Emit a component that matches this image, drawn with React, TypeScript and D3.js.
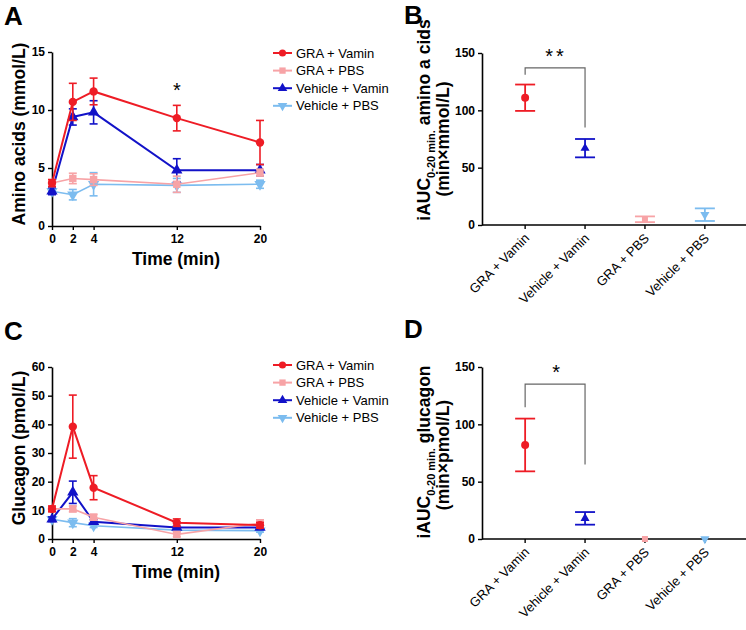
import { useRef, useEffect } from 'react';
import * as d3 from 'd3';

const W = 746;
const H = 630;

const GROUPS = ['GRA + Vamin', 'GRA + PBS', 'Vehicle + Vamin', 'Vehicle + PBS'];
const AUC_ORDER = ['GRA + Vamin', 'Vehicle + Vamin', 'GRA + PBS', 'Vehicle + PBS'];
const COLORS = ['#ee1c25', '#f7a3a6', '#1212c8', '#7cbcef'];
const SHAPES = ['circle', 'square', 'triangle', 'triangleDown'];

const TIMES = [0, 2, 4, 12, 20];

// Amino acids (mmol/L)
const aaGraVamin = [3.7, 10.7, 11.6, 9.3, 7.2];
const aaGraVaminErr = [0.3, 1.6, 1.15, 1.1, 1.9];
const aaGraPbs = [3.7, 4.1, 4.0, 3.6, 4.6];
const aaGraPbsErr = [0.3, 0.45, 0.5, 0.7, 0.3];
const aaVehVamin = [3.0, 9.4, 9.8, 4.8, 4.8];
const aaVehVaminErr = [0.3, 0.7, 1.0, 1.0, 0.5];
const aaVehPbs = [3.0, 2.7, 3.6, 3.5, 3.6];
const aaVehPbsErr = [0.2, 0.45, 1.0, 0.6, 0.35];

// Glucagon (pmol/L)
const glGraVamin = [10.5, 39.2, 17.9, 5.7, 4.8];
const glGraVaminErr = [1.0, 11.0, 4.2, 1.3, 1.0];
const glGraPbs = [10.5, 10.5, 7.6, 1.6, 5.5];
const glGraPbsErr = [0.8, 1.0, 1.0, 0.8, 1.2];
const glVehVamin = [6.9, 16.3, 6.0, 4.0, 4.0];
const glVehVaminErr = [0.8, 3.9, 0.8, 0.5, 0.5];
const glVehPbs = [6.9, 5.7, 4.6, 3.1, 2.9];
const glVehPbsErr = [0.5, 1.4, 0.6, 0.5, 0.5];

// iAUC, in AUC_ORDER
const aucAA = [111, 67, 5, 9];
const aucAAErr = [11.5, 8, 2.5, 5.5];
const aucGl = [82, 18, 0, 0];
const aucGlErr = [23, 5.5, 0, 0];

const FONT = '"Liberation Sans", Arial, sans-serif';

function symbolPath(shape, size) {
  if (shape === 'circle') return d3.symbol(d3.symbolCircle, size)();
  if (shape === 'square') return d3.symbol(d3.symbolSquare, size)();
  return d3.symbol(d3.symbolTriangle, size)();
}

function drawMarker(g, shape, x, y, color, size) {
  g.append('path')
    .attr('d', symbolPath(shape, size))
    .attr('transform', `translate(${x},${y})${shape === 'triangleDown' ? ' rotate(180)' : ''}`)
    .attr('fill', color);
}

function styleAxis(s) {
  s.select('.domain').attr('stroke', '#000').attr('stroke-width', 1.6);
  s.selectAll('.tick line').attr('stroke', '#000').attr('stroke-width', 1.4);
  s.selectAll('text')
    .attr('fill', '#000')
    .style('font-family', FONT)
    .style('font-size', '12px')
    .style('font-weight', 'bold');
}

function timePanel(svg, opts) {
  const { top, bottom, max, step, series, ylabel, letter, legendY, star } = opts;
  const x = d3.scaleLinear().domain([0, 20]).range([52, 260]);
  const y = d3.scaleLinear().domain([0, max]).range([bottom, top]);
  const g = svg.append('g');

  g.append('text').attr('x', 4).attr('y', top - 27)
    .style('font-family', FONT).style('font-size', '26px').style('font-weight', 'bold')
    .text(letter);

  g.append('g').attr('transform', `translate(52,0)`)
    .call(d3.axisLeft(y).tickValues(d3.range(0, max + 0.01, step)).tickSize(4).tickSizeOuter(0).tickPadding(3))
    .call(styleAxis);

  g.append('g').attr('transform', `translate(0,${bottom})`)
    .call(d3.axisBottom(x).tickValues(TIMES).tickSize(4).tickSizeOuter(0).tickPadding(4))
    .call(styleAxis);

  g.append('text')
    .attr('x', 176).attr('y', bottom + 39)
    .attr('text-anchor', 'middle')
    .style('font-family', FONT).style('font-size', '17.5px').style('font-weight', 'bold')
    .text('Time (min)');

  g.append('text')
    .attr('transform', `translate(25,${(top + bottom) / 2 - 5}) rotate(-90)`)
    .attr('text-anchor', 'middle')
    .style('font-family', FONT).style('font-size', '17.5px').style('font-weight', 'bold')
    .text(ylabel);

  // draw light blue first so red ends up on top
  [3, 2, 1, 0].forEach(i => {
    const { vals, err } = series[i];
    const c = COLORS[i];
    const line = d3.line().x((d, k) => x(TIMES[k])).y(d => y(d));
    g.append('path').datum(vals).attr('d', line)
      .attr('fill', 'none').attr('stroke', c).attr('stroke-width', i === 1 || i === 3 ? 1.6 : 2);
    vals.forEach((v, k) => {
      const cx = x(TIMES[k]);
      const e = err[k];
      g.append('line').attr('x1', cx).attr('x2', cx).attr('y1', y(v + e)).attr('y2', y(Math.max(0, v - e)))
        .attr('stroke', c).attr('stroke-width', 1.6);
      [v + e, Math.max(0, v - e)].forEach(b => {
        g.append('line').attr('x1', cx - 4).attr('x2', cx + 4).attr('y1', y(b)).attr('y2', y(b))
          .attr('stroke', c).attr('stroke-width', 1.6);
      });
      drawMarker(g, SHAPES[i], cx, y(v), c, 55);
    });
  });

  if (star) {
    g.append('text').attr('x', x(star.t)).attr('y', y(star.v))
      .attr('text-anchor', 'middle')
      .style('font-family', FONT).style('font-size', '20px')
      .text('*');
  }

  // legend
  GROUPS.forEach((name, i) => {
    const ly = legendY + i * 17.6;
    g.append('line').attr('x1', 273).attr('x2', 292).attr('y1', ly).attr('y2', ly)
      .attr('stroke', COLORS[i]).attr('stroke-width', 2);
    drawMarker(g, SHAPES[i], 282.5, ly, COLORS[i], 40);
    g.append('text').attr('x', 296).attr('y', ly + 4.5)
      .style('font-family', FONT).style('font-size', '13px')
      .text(name);
  });
}

function aucPanel(svg, opts) {
  const { top, bottom, vals, err, label1, label2, letter, bracket, star, l1y, l2y } = opts;
  const x = d3.scalePoint().domain(AUC_ORDER).range([482, 748]).padding(0.72);
  const y = d3.scaleLinear().domain([0, 150]).range([bottom, top]);
  const g = svg.append('g');

  g.append('text').attr('x', 404).attr('y', top - 29)
    .style('font-family', FONT).style('font-size', '26px').style('font-weight', 'bold')
    .text(letter);

  g.append('g').attr('transform', `translate(482,0)`)
    .call(d3.axisLeft(y).tickValues([0, 50, 100, 150]).tickSize(4).tickSizeOuter(0).tickPadding(3))
    .call(styleAxis);

  g.append('line').attr('x1', 482).attr('x2', 746).attr('y1', bottom).attr('y2', bottom)
    .attr('stroke', '#000').attr('stroke-width', 1.6);
  AUC_ORDER.forEach(name => {
    const cx = x(name);
    g.append('line').attr('x1', cx).attr('x2', cx).attr('y1', bottom).attr('y2', bottom + 4)
      .attr('stroke', '#000').attr('stroke-width', 1.4);
    const lx = cx + 5;
    const ly = bottom + 14;
    g.append('text')
      .attr('x', lx).attr('y', ly)
      .attr('transform', `rotate(-45 ${lx} ${ly})`)
      .attr('text-anchor', 'end')
      .style('font-family', FONT).style('font-size', '13px')
      .text(name);
  });

  // rotated y label, two lines
  const t1 = g.append('text')
    .attr('transform', `translate(430,${l1y}) rotate(-90)`)
    .attr('text-anchor', 'middle')
    .style('font-family', FONT).style('font-size', '17.5px').style('font-weight', 'bold');
  t1.append('tspan').text('iAUC');
  t1.append('tspan').attr('dy', 5).style('font-size', '11px').text('0-20 min.');
  t1.append('tspan').attr('dy', -5).text(' ' + label1);
  g.append('text')
    .attr('transform', `translate(449,${l2y}) rotate(-90)`)
    .attr('text-anchor', 'middle')
    .style('font-family', FONT).style('font-size', '17.5px').style('font-weight', 'bold')
    .text(label2);

  // significance bracket
  const bx1 = x(AUC_ORDER[0]);
  const bx2 = x(AUC_ORDER[1]);
  g.append('path')
    .attr('d', `M${bx1},${y(bracket[1])}V${y(bracket[0])}H${bx2}V${y(bracket[2])}`)
    .attr('fill', 'none').attr('stroke', '#666').attr('stroke-width', 1.2);
  g.append('text').attr('x', (bx1 + bx2) / 2 + 1).attr('y', y(bracket[0]) - 5)
    .attr('text-anchor', 'middle')
    .style('font-family', FONT).style('font-size', '20px').style('letter-spacing', star.length > 1 ? '3px' : '0')
    .text(star);

  AUC_ORDER.forEach((name, k) => {
    const gi = GROUPS.indexOf(name);
    const c = COLORS[gi];
    const cx = x(name);
    const v = vals[k];
    const e = err[k];
    if (e > 0) {
      g.append('line').attr('x1', cx).attr('x2', cx).attr('y1', y(v + e)).attr('y2', y(Math.max(0, v - e)))
        .attr('stroke', c).attr('stroke-width', 1.8);
      [v + e, Math.max(0, v - e)].forEach(b => {
        g.append('line').attr('x1', cx - 10).attr('x2', cx + 10).attr('y1', y(b)).attr('y2', y(b))
          .attr('stroke', c).attr('stroke-width', 1.8);
      });
    }
    drawMarker(g, SHAPES[gi], cx, y(v), c, gi === 0 ? 50 : 36);
  });
}

export default function App() {
  const ref = useRef(null);

  useEffect(() => {
    const el = ref.current;
    el.innerHTML = '';
    const svg = d3.select(el).append('svg').attr('width', W).attr('height', H)
      .style('display', 'block').style('background', '#fff');

    timePanel(svg, {
      top: 52, bottom: 226, max: 15, step: 5,
      ylabel: 'Amino acids (mmol/L)', letter: 'A', legendY: 53,
      star: { t: 12, v: 11.1 },
      series: [
        { vals: aaGraVamin, err: aaGraVaminErr },
        { vals: aaGraPbs, err: aaGraPbsErr },
        { vals: aaVehVamin, err: aaVehVaminErr },
        { vals: aaVehPbs, err: aaVehPbsErr },
      ],
    });

    timePanel(svg, {
      top: 367, bottom: 539, max: 60, step: 10,
      ylabel: 'Glucagon (pmol/L)', letter: 'C', legendY: 365,
      star: null,
      series: [
        { vals: glGraVamin, err: glGraVaminErr },
        { vals: glGraPbs, err: glGraPbsErr },
        { vals: glVehVamin, err: glVehVaminErr },
        { vals: glVehPbs, err: glVehPbsErr },
      ],
    });

    aucPanel(svg, {
      top: 53, bottom: 225, vals: aucAA, err: aucAAErr,
      label1: 'amino a cids', label2: '(min×mmol/L)', letter: 'B',
      bracket: [137, 131, 85], star: '**', l1y: 120, l2y: 139,
    });

    aucPanel(svg, {
      top: 367, bottom: 539, vals: aucGl, err: aucGlErr,
      label1: 'glucagon', label2: '(min×pmol/L)', letter: 'D',
      bracket: [135, 115, 65], star: '*', l1y: 452, l2y: 455,
    });
  }, []);

  return <div ref={ref} style={{ position: 'absolute', left: 0, top: 0, width: W, height: H }} />;
}
